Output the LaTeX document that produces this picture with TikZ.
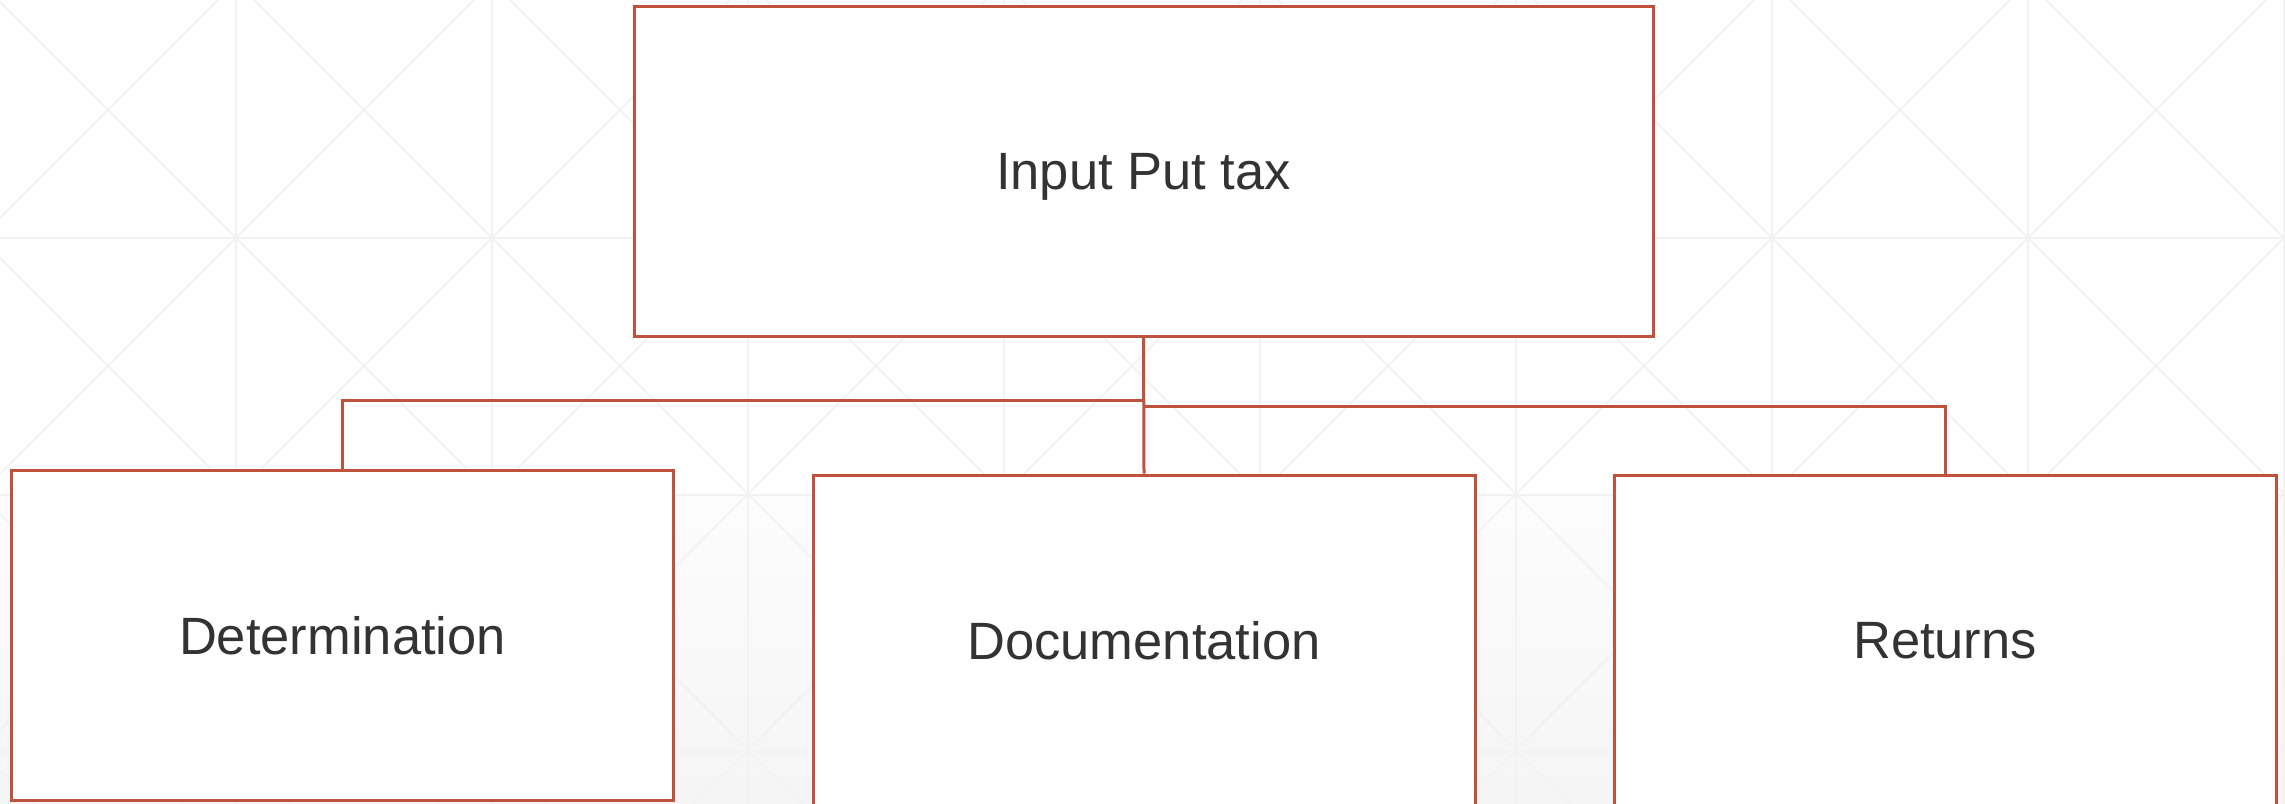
\documentclass[tikz,border=0pt]{standalone}
\usepackage{fontspec}
\setmainfont{Liberation Sans}
\usetikzlibrary{positioning}
\definecolor{brick}{RGB}{192,82,60}
\definecolor{ink}{RGB}{51,51,51}
\definecolor{gridline}{RGB}{242,242,242}
\tikzset{
  card/.style={draw=brick, line width=3pt, fill=white, rectangle,
    inner sep=0pt, text depth=0pt, text=ink,
    font=\fontsize{52.5pt}{60pt}\selectfont},
  link/.style={draw=brick, line width=3pt},
  bgline/.style={draw=gridline, line width=1.5pt}
}
\begin{document}
\begin{tikzpicture}[x=1pt, y=-1pt]
  \useasboundingbox (0,0) rectangle (2285,803);
  % page background: white with a soft grey band at the bottom
  \fill[white] (0,0) rectangle (2285,803);
  \fill[top color=black!1, bottom color=black!4] (0,495) rectangle (2285,803);
  % faint triangular lattice
  \begin{scope}
    \clip (0,0) rectangle (2285,803);
    \foreach \k in {-1,...,9} {
      \draw[bgline] ({236+256*\k},-10) -- ({236+256*\k},813);
    }
    \foreach \k in {-1,...,3} {
      \draw[bgline] (-10,{238+257*\k}) -- (2295,{238+257*\k});
    }
    \foreach \k in {-5,...,12} {
      \draw[bgline] ({-52+256*\k},-50) -- ({848+256*\k},850);
      \draw[bgline] ({524+256*\k},-50) -- ({-376+256*\k},850);
    }
  \end{scope}

  % boxes
  \node[card, minimum width=1019pt, minimum height=330pt] (top) at (1143.5,171) {Input Put tax};
  \node[card, minimum width=662pt, minimum height=330pt] (det) at (342.5,635) {Determination};
  \node[card, minimum width=662pt, minimum height=330pt] (doc) at (1144,640) {Documentation};
  \node[card, minimum width=662pt, minimum height=330pt] (ret) at (1945,640) {Returns};

  % branch points on the trunk
  \coordinate (jl) at (1143.5,400);
  \coordinate (jr) at (1143.5,406);

  % connectors
  \draw[link] (top.south) -- (doc.north);
  \draw[link] (jl) -| (det.north);
  \draw[link] (jr) -| (ret.north);
\end{tikzpicture}
\end{document}
